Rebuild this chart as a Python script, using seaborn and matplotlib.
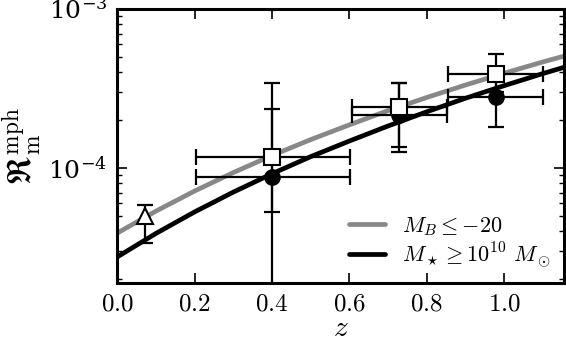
import numpy as np
import pandas as pd
import matplotlib
matplotlib.use('Agg')
import matplotlib.pyplot as plt
import matplotlib.ticker as mticker
import seaborn as sns

# fitted merger-rate curves
z_curve = [0.0, 0.1, 0.2, 0.3, 0.4, 0.5, 0.6, 0.7, 0.8, 0.9, 1.0, 1.1, 1.2]
rate_mb = [3.90e-5, 5.36e-5, 7.17e-5, 9.37e-5, 1.20e-4, 1.51e-4, 1.87e-4,
           2.30e-4, 2.78e-4, 3.33e-4, 3.95e-4, 4.65e-4, 5.43e-4]
rate_mstar = [2.76e-5, 3.88e-5, 5.30e-5, 7.06e-5, 9.21e-5, 1.18e-4, 1.48e-4,
              1.84e-4, 2.26e-4, 2.75e-4, 3.30e-4, 3.93e-4, 4.64e-4]

# open squares (M_B <= -20)
z_sq = [0.40, 0.727, 0.979]
r_sq = [1.17e-4, 2.42e-4, 3.88e-4]
r_sq_lo = [1.0e-5, 1.36e-4, 3.0e-4]
r_sq_hi = [3.41e-4, 3.43e-4, 5.2e-4]
z_sq_lo = [0.204, 0.607, 0.855]
z_sq_hi = [0.602, 0.853, 1.10]

# filled circles (M_star >= 1e10)
z_ci = [0.40, 0.727, 0.979]
r_ci = [8.74e-5, 2.15e-4, 2.80e-4]
r_ci_lo = [5.3e-5, 1.27e-4, 1.81e-4]
r_ci_hi = [2.34e-4, 3.43e-4, 3.6e-4]
z_ci_lo = [0.204, 0.607, 0.855]
z_ci_hi = [0.602, 0.853, 1.10]

# local point (open triangle)
z_tri = [0.071]
r_tri = [5.0e-5]
r_tri_lo = [3.36e-5]
r_tri_hi = [5.85e-5]

sns.set_style('ticks', {'axes.edgecolor': 'black', 'text.color': 'black',
                        'axes.labelcolor': 'black', 'xtick.color': 'black',
                        'ytick.color': 'black'})
plt.rcParams['font.family'] = ['DejaVu Serif']
plt.rcParams['mathtext.fontset'] = 'cm'

fig = plt.figure(figsize=(5.66, 3.47), dpi=100)
ax = fig.add_axes([0.207, 0.184, 0.790, 0.790])

curves = pd.DataFrame({
    'z': z_curve * 2,
    'rate': rate_mb + rate_mstar,
    'sample': [r'$M_B \leq {-}20$'] * len(z_curve) + [r'$M_\star \geq 10^{10}\ M_\odot$'] * len(z_curve),
})
sns.lineplot(data=curves, x='z', y='rate', hue='sample',
             palette=['#888888', 'black'], linewidth=3.4, ax=ax, zorder=2)


def errs(center, lo, hi):
    c = np.array(center)
    return [c - np.array(lo), np.array(hi) - c]


ekw = dict(ecolor='black', elinewidth=1.6, capsize=6, capthick=1.6, linestyle='none')
ax.errorbar(z_sq, r_sq, yerr=errs(r_sq, r_sq_lo, r_sq_hi),
            xerr=errs(z_sq, z_sq_lo, z_sq_hi), zorder=3, **ekw)
ax.errorbar(z_ci, r_ci, yerr=errs(r_ci, r_ci_lo, r_ci_hi),
            xerr=errs(z_ci, z_ci_lo, z_ci_hi), zorder=3, **ekw)
ax.errorbar(z_tri, r_tri, yerr=errs(r_tri, r_tri_lo, r_tri_hi), zorder=3, **ekw)

ax.plot(z_ci, r_ci, 'o', color='black', markersize=11, zorder=4)
ax.plot(z_sq, r_sq, 's', mfc='white', mec='black', mew=1.5, markersize=11, zorder=5)
ax.plot(z_tri, r_tri, '^', mfc='white', mec='black', mew=1.5, markersize=11, zorder=5)

ax.set_yscale('log')
ax.set_xlim(0, 1.155)
ax.set_ylim(1.89e-5, 1e-3)
ax.xaxis.set_major_locator(mticker.MultipleLocator(0.2))
ax.xaxis.set_major_formatter(mticker.FuncFormatter(lambda v, p: f'${v:.1f}$'))
ax.yaxis.set_major_locator(mticker.LogLocator(base=10, numticks=10))
ax.yaxis.set_minor_locator(mticker.LogLocator(base=10, subs=np.arange(2, 10), numticks=10))
ax.yaxis.set_minor_formatter(mticker.NullFormatter())

ax.tick_params(which='both', direction='in', top=True, right=True, labelsize=18, pad=7,
               color='black', labelcolor='black')
ax.tick_params(which='major', length=7, width=1.2)
ax.tick_params(which='minor', length=3.6, width=1.0)
for s in ax.spines.values():
    s.set_linewidth(2.2)
    s.set_color('black')
    s.set_visible(True)

ax.set_xlabel(r'$z$', fontsize=21, labelpad=-1, color='black')
ax.set_ylabel(r'$\mathfrak{R}_{\rm m}^{\rm mph}$', fontsize=24, labelpad=4, color='black')

leg = ax.legend(loc='lower right', frameon=False, fontsize=16, handlelength=1.6,
                handletextpad=0.8, labelspacing=0.1, borderaxespad=0.2, labelcolor='black')

fig.savefig('out.png', dpi=100)
